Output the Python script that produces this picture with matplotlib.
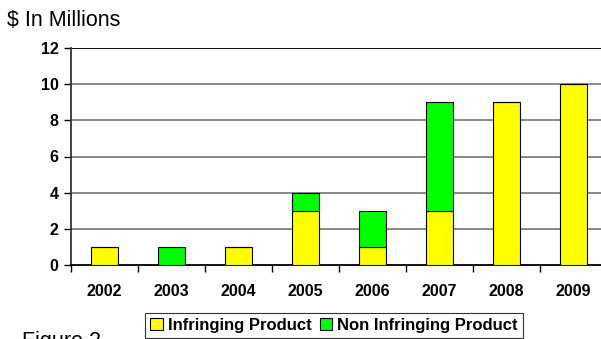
import numpy as np
import matplotlib.pyplot as plt

# data ($ millions)
years = ['2002', '2003', '2004', '2005', '2006', '2007', '2008', '2009']
infringing = [1, 0, 1, 3, 1, 3, 9, 10]
non_infringing = [0, 1, 0, 1, 2, 6, 0, 0]
y_ticks = [0, 2, 4, 6, 8, 10, 12]

plt.rcParams['font.family'] = ['Liberation Sans', 'DejaVu Sans']

W, H = 601, 339
fig = plt.figure(figsize=(W / 100, H / 100), dpi=100)
# plot area runs a little past the right edge of the picture
ax = fig.add_axes([71 / W, (H - 265) / H, 536 / W, 217 / H])

x = np.arange(len(years))
bar_w = 0.4
ax.bar(x, infringing, bar_w, color='#FFFF00', edgecolor='black', linewidth=0.8,
       label='Infringing Product', zorder=3)
ax.bar(x, non_infringing, bar_w, bottom=infringing, color='#00FF00',
       edgecolor='black', linewidth=0.8, label='Non Infringing Product', zorder=3)

ax.set_xlim(-0.5, len(years) - 0.5)
ax.set_ylim(0, 12)
ax.set_yticks(y_ticks)
ax.set_yticklabels([str(v) for v in y_ticks], fontsize=11.5, fontweight='bold')
ax.set_xticks(x)
ax.set_xticklabels(years, fontsize=11.5, fontweight='bold')
ax.set_xticks(np.arange(len(years) + 1) - 0.5, minor=True)
ax.tick_params(axis='x', which='major', length=0, pad=14)
ax.tick_params(axis='x', which='minor', length=5, width=1, color='black')
ax.tick_params(axis='y', length=5, width=1, pad=4)

for v in y_ticks[1:-1]:
    ax.axhline(v, color='#808080', linewidth=1.3, zorder=1)
ax.axhline(12, color='black', linewidth=1.3, zorder=1)

for side in ['top', 'right']:
    ax.spines[side].set_visible(False)
ax.spines['left'].set_color('#333333')
ax.spines['left'].set_linewidth(1.3)
ax.spines['bottom'].set_linewidth(1.3)

fig.text(7 / W, 1 - 20 / H, '$ In Millions', fontsize=15.5, va='center', ha='left')
fig.text(22 / W, -8 / H, 'Figure 2', fontsize=15.5, va='baseline', ha='left')

leg = fig.legend(loc='upper left', bbox_to_anchor=(145 / W, 1 - 313 / H), ncol=2,
                 prop={'weight': 'bold', 'size': 12}, frameon=True, fancybox=False,
                 handlelength=0.75, handleheight=0.75, handletextpad=0.3,
                 columnspacing=0.5, borderpad=0.3, borderaxespad=0)
leg.get_frame().set_edgecolor('black')
leg.get_frame().set_linewidth(0.8)

plt.savefig('out.png', dpi=100)
